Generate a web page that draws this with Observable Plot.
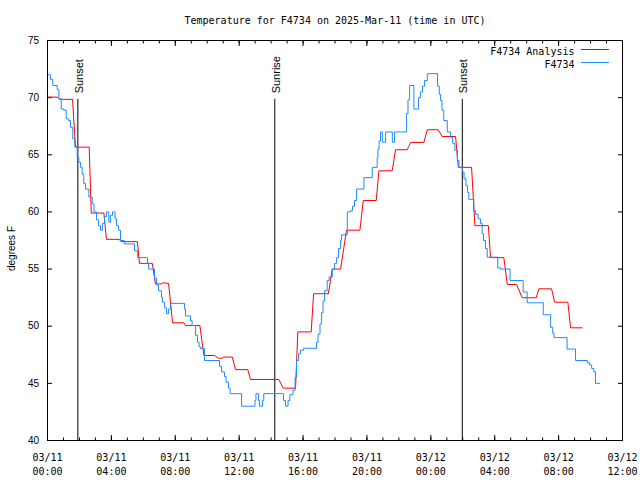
<!DOCTYPE html>
<html><head><meta charset="utf-8">
<script src="https://cdn.jsdelivr.net/npm/d3@7"></script>
<script src="https://cdn.jsdelivr.net/npm/@observablehq/plot@0.6"></script>
<style>body{margin:0;background:#fff} #chart{width:640px;height:480px}</style>
</head><body><div id="chart"></div>
<script>
const startUTC = Date.UTC(2025, 2, 11, 0, 0);
const toDate = h => new Date(startUTC + h * 3600000);

const titleText = "Temperature for F4734 on 2025-Mar-11 (time in UTC)";
const seriesNames = ["F4734 Analysis", "F4734"];
const seriesColors = ["#ff0000", "#1e8cff"];
const yLabel = "degrees F";

// [hours since 03/11 00:00 UTC, temperature F]
const analysisReadings = [
[0,70.05],[0.6,70.05],[0.75,69.85],[1.57,69.85],[1.75,65.67],[2.61,65.67],[2.74,59.9],[3.53,59.9],[3.69,57.6],[4.5,57.6],[4.6,57.4],[5.63,57.4],[5.76,55.5],[6.56,55.5],[6.76,53.7],[7.15,53.7],[7.2,53.8],[7.58,53.75],[7.83,50.3],[8.54,50.3],[8.64,50.06],[9.54,50.06],[9.79,47.44],[10.46,47.44],[10.6,47.3],[10.7,47.2],[10.96,47.2],[11.0,47.3],[11.57,47.3],[11.77,46.2],[12.54,46.2],[12.71,45.34],[14.48,45.34],[14.76,44.58],[15.53,44.58],[15.67,49.5],[16.51,49.5],[16.66,52.84],[17.58,52.84],[17.83,55.0],[18.35,55.0],[18.72,58.4],[19.56,58.4],[19.77,61.0],[20.58,61.0],[20.75,63.6],[21.58,63.6],[21.79,65.44],[22.52,65.44],[22.62,65.73],[22.73,66.08],[23.56,66.08],[23.78,67.19],[24.46,67.19],[24.71,66.6],[25.55,66.6],[25.72,63.9],[26.55,63.9],[26.76,58.8],[27.6,58.8],[27.74,56.0],[28.57,56.0],[28.79,53.65],[29.37,53.65],[29.72,52.49],[30.6,52.49],[30.76,53.27],[31.56,53.27],[31.75,52.1],[32.58,52.1],[32.75,49.86],[33.48,49.86]
];

const observedReadings = [
[0,72.0],[0.19,71.6],[0.33,71.06],[0.61,70.7],[0.71,69.9],[0.86,69.0],[1.02,68.9],[1.17,68.15],[1.31,68.0],[1.44,67.4],[1.58,66.4],[1.71,65.7],[1.86,64.8],[1.96,64.35],[2.07,63.9],[2.17,63.3],[2.27,62.5],[2.38,62.0],[2.59,61.3],[2.8,60.7],[2.91,60.0],[3.07,59.3],[3.19,58.8],[3.32,58.4],[3.44,59.0],[3.57,59.6],[3.69,60.0],[3.84,59.1],[3.94,59.7],[4.07,60.0],[4.23,59.4],[4.32,58.8],[4.45,58.4],[4.57,57.5],[4.82,57.2],[5.45,56.6],[5.64,56.0],[6.26,55.5],[6.33,55.0],[6.7,54.2],[6.83,53.6],[6.95,53.1],[7.14,52.5],[7.2,52.1],[7.33,51.6],[7.45,51.1],[7.58,51.5],[7.7,52.0],[8.58,51.5],[8.64,50.9],[8.95,50.5],[9.05,50.06],[9.27,49.2],[9.39,48.6],[9.49,48.2],[9.58,48.05],[9.83,47.0],[10.77,46.5],[10.9,46.0],[11.08,45.6],[11.18,45.1],[11.33,44.6],[11.43,44.1],[12.15,43.0],[12.99,43.5],[13.05,44.1],[13.21,43.5],[13.27,43.0],[13.46,43.5],[13.54,44.1],[14.78,43.5],[14.9,43.0],[15.06,43.5],[15.17,44.0],[15.37,44.4],[15.5,45.5],[15.59,47.0],[15.72,47.6],[15.84,47.9],[16.03,48.07],[16.84,48.6],[16.94,49.3],[17.06,50.2],[17.16,51.2],[17.25,52.2],[17.35,53.1],[17.51,54.0],[17.63,54.3],[17.83,55.0],[17.97,55.5],[18.1,56.0],[18.22,56.8],[18.35,57.5],[18.41,58.0],[18.77,60.0],[18.97,60.1],[19.1,60.5],[19.22,61.0],[19.35,62.0],[19.81,63.0],[20.33,63.9],[20.64,64.8],[20.69,65.5],[20.76,66.2],[20.85,67.0],[20.96,66.1],[21.17,67.0],[21.59,66.1],[21.73,67.0],[22.48,68.6],[22.57,69.8],[22.67,71.06],[22.94,69.0],[23.23,70.0],[23.36,70.5],[23.48,71.0],[23.61,71.5],[23.78,72.1],[24.42,71.0],[24.53,70.3],[24.61,69.75],[24.7,68.9],[24.81,68.0],[25.03,67.0],[25.24,66.5],[25.37,66.0],[25.5,65.4],[25.66,64.5],[25.76,63.9],[25.97,63.5],[26.08,62.9],[26.2,62.3],[26.3,61.7],[26.38,61.1],[26.69,60.1],[26.8,59.8],[26.96,59.4],[27.11,59.0],[27.21,58.1],[27.3,57.5],[27.42,56.8],[27.53,56.04],[28.19,55.1],[28.36,55.0],[28.96,54.0],[29.78,53.0],[30.03,52.05],[31.04,51.0],[31.5,49.9],[31.63,49.4],[31.71,49.0],[32.53,48.0],[33.06,47.0],[33.8,46.8],[33.94,46.6],[34.07,46.3],[34.21,46.0],[34.31,45.0],[34.58,45.0]
];

const eventHours = [1.90, 14.23, 25.97];
const eventLabels = ["Sunset", "Sunrise", "Sunset"];
const eventTopTemp = 69.85;

const xMajorHours = [0, 4, 8, 12, 16, 20, 24, 28, 32, 36];
const xTickLabels = ["03/11\n00:00","03/11\n04:00","03/11\n08:00","03/11\n12:00","03/11\n16:00","03/11\n20:00","03/12\n00:00","03/12\n04:00","03/12\n08:00","03/12\n12:00"];
const xMinorHours = d3.range(0, 37);
const yTicks = [40, 45, 50, 55, 60, 65, 70, 75];

const analysis = analysisReadings.map(([h, v]) => ({t: toDate(h), v}));
const observed = observedReadings.map(([h, v]) => ({t: toDate(h), v}));
const events = eventHours.map((h, i) => ({t: toDate(h), label: eventLabels[i]}));
const majorDates = xMajorHours.map(toDate);
const minorDates = xMinorHours.map(toDate);
const labelFor = d => xTickLabels[xMajorHours.indexOf(Math.round((d - startUTC) / 3600000))];

const mono = "DejaVu Sans Mono";
const sans = "Liberation Sans";

function legendLines(index, scales, values, dims) {
  const g = d3.create("svg:g");
  const xr = dims.width - dims.marginRight;
  seriesColors.forEach((c, i) => {
    const y = dims.marginTop + 9 + 13 * i + 0.5;
    g.append("line").attr("x1", xr - 41).attr("x2", xr - 13)
      .attr("y1", y).attr("y2", y).attr("stroke", c).attr("stroke-width", 1);
  });
  return g.node();
}

const plot = Plot.plot({
  width: 640, height: 480,
  marginLeft: 47, marginRight: 18, marginTop: 40, marginBottom: 40,
  style: {fontFamily: mono, fontSize: "10px", background: "#fff", color: "#000", overflow: "visible"},
  x: {type: "utc", domain: [toDate(0), toDate(36)]},
  y: {domain: [40, 75]},
  marks: [
    Plot.axisX(minorDates, {anchor: "bottom", tickSize: -2.5, fill: "none", tickFormat: () => "", label: null}),
    Plot.axisX(minorDates, {anchor: "top", tickSize: -2.5, fill: "none", tickFormat: () => "", label: null}),
    Plot.axisX(majorDates, {anchor: "top", tickSize: -5, fill: "none", tickFormat: () => "", label: null}),
    Plot.axisX(majorDates, {anchor: "bottom", tickSize: -5, tickPadding: 16, tickFormat: labelFor, lineHeight: 1.4, fontFamily: mono, fontSize: 10, label: null}),
    Plot.axisY(yTicks, {anchor: "left", tickSize: -5, tickPadding: 13.5, fontFamily: sans, fontSize: 10, label: null}),
    Plot.axisY(yTicks, {anchor: "right", tickSize: -5, fill: "none", tickFormat: () => "", label: null}),
    Plot.ruleX(events, {x: "t", y1: () => 40, y2: () => eventTopTemp, stroke: "#000", strokeWidth: 1}),
    Plot.text(events, {x: "t", y: () => eventTopTemp, text: "label", rotate: -90, textAnchor: "start", dy: -6, dx: 1.5, fontFamily: sans, fontSize: 11, fill: "#000"}),
    Plot.line(analysis, {x: "t", y: "v", stroke: seriesColors[0], strokeWidth: 1}),
    Plot.line(observed, {x: "t", y: "v", stroke: seriesColors[1], strokeWidth: 1, curve: "step-after"}),
    Plot.frame({stroke: "#000", strokeWidth: 1}),
    Plot.text([titleText], {frameAnchor: "top", dy: -24, fontFamily: mono, fontSize: 10, fill: "#000"}),
    Plot.text([yLabel], {frameAnchor: "left", dx: -36, dy: 8, rotate: -90, textAnchor: "middle", fontFamily: sans, fontSize: 10, fill: "#000"}),
    Plot.text([seriesNames[0]], {frameAnchor: "top-right", dx: -48, dy: 7, textAnchor: "end", fontFamily: mono, fontSize: 10, fill: "#000"}),
    Plot.text([seriesNames[1]], {frameAnchor: "top-right", dx: -48, dy: 20, textAnchor: "end", fontFamily: mono, fontSize: 10, fill: "#000"}),
    legendLines
  ]
});
document.getElementById("chart").appendChild(plot);
</script>
</body></html>
